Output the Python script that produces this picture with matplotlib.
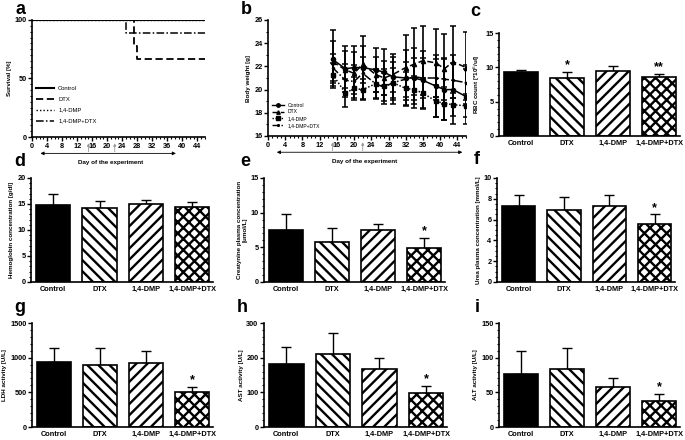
import numpy as np
import matplotlib
matplotlib.use("Agg")
import matplotlib.pyplot as plt
from matplotlib.ticker import MultipleLocator
from matplotlib.lines import Line2D

plt.rcParams['font.family'] = ['Liberation Sans', 'DejaVu Sans']
plt.rcParams['hatch.linewidth'] = 1.7

W, H = 685, 440

groups = ["Control", "DTX", "1,4-DMP", "1,4-DMP+DTX"]

# survival (Kaplan-Meier steps)
surv_control_days = [0, 46]
surv_control = [100, 100]
surv_dtx_days = [0, 27, 28, 46]
surv_dtx = [100, 78, 67, 67]
surv_dmp_days = [0, 46]
surv_dmp = [100, 100]
surv_combo_days = [0, 25, 46]
surv_combo = [100, 89, 89]

# body weight
bw_days = [15, 18, 20, 22, 25, 27, 29, 32, 34, 36, 39, 41, 43, 46]
bw_control = [22.6, 21.8, 21.9, 21.9, 21.7, 21.5, 21.1, 21.0, 21.0, 20.8, 20.3, 20.0, 20.0, 19.4]
bw_control_err = [2.5, 2.0, 1.9, 2.7, 1.9, 2.0, 2.0, 2.4, 2.6, 2.5, 2.7, 2.6, 3.0, 2.4]
bw_dtx = [22.4, 21.7, 21.4, 22.2, 21.3, 21.0, 21.3, 21.9, 22.2, 22.5, 22.3, 21.8, 22.4, 21.9]
bw_dtx_err = [1.8, 1.6, 1.8, 1.6, 1.5, 1.5, 1.5, 2.8, 3.1, 3.0, 2.9, 3.0, 3.1, 3.1]
bw_dmp = [21.3, 19.7, 20.1, 20.0, 20.5, 20.3, 20.6, 20.1, 20.0, 19.7, 19.0, 18.8, 18.7, 18.6]
bw_dmp_err = [1.0, 1.2, 1.0, 0.9, 1.3, 1.5, 1.8, 1.4, 1.2, 1.3, 1.4, 1.4, 1.0, 1.0]
bw_combo = [21.9, 20.8, 20.7, 21.4, 20.5, 20.2, 20.6, 20.9, 21.1, 21.0, 21.0, 20.9, 20.8, 20.6]
bw_combo_err = [1.2, 1.4, 1.4, 1.4, 1.2, 1.2, 1.3, 1.5, 1.6, 1.7, 1.6, 1.8, 1.5, 1.5]

# bar panels
rbc_mean = [9.3, 8.5, 9.4, 8.6]
rbc_err = [0.25, 0.8, 0.75, 0.5]
rbc_sig = ["", "*", "", "**"]
hgb_mean = [14.8, 14.2, 15.0, 14.5]
hgb_err = [2.1, 1.4, 0.7, 0.9]
crea_mean = [7.5, 5.7, 7.5, 4.95]
crea_err = [2.3, 2.1, 0.9, 1.45]
urea_mean = [7.3, 6.9, 7.3, 5.6]
urea_err = [1.1, 1.3, 1.1, 0.9]
ldh_mean = [940, 895, 930, 505]
ldh_err = [195, 250, 165, 75]
ast_mean = [181, 210, 166, 99]
ast_err = [49, 61, 32, 20]
alt_mean = [76, 83, 58, 37.5]
alt_err = [34, 31, 12, 10]
star_last = ["", "", "", "*"]

fig = plt.figure(figsize=(W / 100, H / 100), dpi=100)


def box(l, r, t, b):
    return fig.add_axes([l / W, 1 - b / H, (r - l) / W, (b - t) / H])


def style(ax):
    for s in ["top", "right"]:
        ax.spines[s].set_visible(False)
    for s in ["left", "bottom"]:
        ax.spines[s].set_linewidth(1.2)
    ax.tick_params(which="major", length=3, width=1, labelsize=5.3, pad=1)
    ax.tick_params(which="minor", length=1.5, width=0.8)
    for t in ax.get_xticklabels() + ax.get_yticklabels():
        t.set_fontweight("bold")


def day_axis(ax):
    ax.set_xlim(0, 46)
    ax.xaxis.set_major_locator(MultipleLocator(4))
    ax.xaxis.set_minor_locator(MultipleLocator(1))
    for d in [15, 22]:
        ax.annotate("", xy=(d, -0.03), xycoords=("data", "axes fraction"),
                    xytext=(d, -0.15), textcoords=("data", "axes fraction"),
                    arrowprops=dict(arrowstyle="-|>", color="#999999", lw=0.6,
                                    mutation_scale=4))


def day_arrow(ax, x0, x1, xt):
    ax.annotate("", xy=(x0, -0.14), xycoords=("data", "axes fraction"),
                xytext=(x1, -0.14), textcoords=("data", "axes fraction"),
                arrowprops=dict(arrowstyle="<|-|>", color="black", lw=0.6,
                                mutation_scale=5), annotation_clip=False)
    ax.text(xt, -0.2, "Day of the experiment", transform=ax.get_xaxis_transform(),
            ha="center", va="top", fontsize=4.5, fontweight="bold")


# ---- a: survival
ax = box(32, 205, 20, 137)
ax.plot(surv_control_days, surv_control, drawstyle="steps-post", color="black", lw=1.5, label="Control")
ax.plot(surv_dtx_days, surv_dtx, drawstyle="steps-post", color="black", lw=1.3, ls=(0, (4, 2)), label="DTX")
ax.plot(surv_dmp_days, surv_dmp, drawstyle="steps-post", color="black", lw=1.0, ls=(0, (1, 1.5)), label="1,4-DMP")
ax.plot(surv_combo_days, surv_combo, drawstyle="steps-post", color="black", lw=1.1, ls=(0, (5, 1.5, 1, 1.5)), label="1,4-DMP+DTX")
ax.set_ylim(0, 100)
ax.set_yticks([0, 50, 100])
ax.yaxis.set_minor_locator(MultipleLocator(5))
day_axis(ax)
ax.set_ylabel("Survival [%]", fontsize=4.5, fontweight="bold", labelpad=2)
ax.legend(loc="lower left", bbox_to_anchor=(0.0, 0.08), frameon=False, fontsize=4.2,
          handlelength=3, labelspacing=1.0, borderaxespad=0.3)
style(ax)
day_arrow(ax, 1.5, 39, 21)

# ---- b: body weight
ax = box(268, 466, 20, 136)
series = [
    (bw_control, bw_control_err, "-", "o", "Control"),
    (bw_dtx, bw_dtx_err, (0, (4, 2)), "^", "DTX"),
    (bw_dmp, bw_dmp_err, (0, (1, 1.2)), "s", "1,4-DMP"),
    (bw_combo, bw_combo_err, (0, (5, 1.5, 1, 1.5)), ".", "1,4-DMP+DTX"),
]
for vals, err, ls, mk, lab in series:
    ax.errorbar(bw_days, vals, yerr=err, color="black", ls=ls, lw=1.1, marker=mk,
                ms=3, capsize=2.3, elinewidth=1.2, capthick=1.1, label=lab)
ax.set_ylim(16, 26)
ax.yaxis.set_major_locator(MultipleLocator(2))
ax.yaxis.set_minor_locator(MultipleLocator(1))
day_axis(ax)
ax.set_ylabel("Body weight [g]", fontsize=4.5, fontweight="bold", labelpad=2)
handles = [Line2D([], [], color="black", ls=ls, marker=mk, ms=2.5, lw=1.0)
           for _, _, ls, mk, _ in series]
ax.legend(handles, [s[4] for s in series], loc="lower left", bbox_to_anchor=(0.0, 0.04),
          frameon=False, fontsize=3.6, handlelength=2.5, labelspacing=0.35, borderaxespad=0.3)
style(ax)
day_arrow(ax, 1.4, 45.8, 22.5)

# ---- bar panels
hatches = [None, "\\\\\\", "///", "xxx"]
colors = ["black", "white", "white", "white"]


def bar_panel(box_px, means, errs, sig, ymax, major, minor, ylabel):
    ax = box(*box_px)
    x = np.arange(len(groups))
    ax.bar(x, means, width=0.74, color=colors, edgecolor="black", linewidth=1.2,
           hatch=hatches, zorder=2)
    ax.errorbar(x, means, yerr=[np.zeros(len(errs)), errs], fmt="none", ecolor="black",
                elinewidth=1.0, capsize=3.5, capthick=1.0, zorder=1)
    for i, s in enumerate(sig):
        if s:
            ax.annotate(s, (x[i], means[i] + errs[i]), xytext=(0, 0.5),
                        textcoords="offset points", ha="center", va="bottom",
                        fontsize=9, fontweight="bold")
    ax.set_xlim(-0.48, 3.45)
    ax.set_ylim(0, ymax)
    ax.set_xticks(x)
    ax.set_xticklabels(groups)
    ax.yaxis.set_major_locator(MultipleLocator(major))
    ax.yaxis.set_minor_locator(MultipleLocator(minor))
    ax.set_ylabel(ylabel, fontsize=4.5, fontweight="bold", labelpad=2)
    style(ax)
    ax.tick_params(axis="x", length=0, pad=3, labelsize=5.3)
    return ax


bar_panel((499, 680, 33, 136), rbc_mean, rbc_err, rbc_sig, 15, 5, 1,
          r"RBC count [*10$^6$/ul]")
bar_panel((31, 213, 178, 282), hgb_mean, hgb_err, ["", "", "", ""], 20, 5, 1,
          "Hemoglobin concentration [g/dl]")
bar_panel((264, 445, 178, 282), crea_mean, crea_err, star_last, 15, 5, 1,
          "Creatynine plasma concentration\n[umol/L]")
bar_panel((497, 675, 178, 282), urea_mean, urea_err, star_last, 10, 2, 0.5,
          "Urea plasma concentration [mmol/L]")
bar_panel((32, 213, 323, 427), ldh_mean, ldh_err, star_last, 1500, 500, 100,
          "LDH activity [U/L]")
bar_panel((264, 447, 323, 427), ast_mean, ast_err, star_last, 300, 100, 20,
          "AST activity [U/L]")
bar_panel((499, 680, 323, 427), alt_mean, alt_err, star_last, 150, 50, 10,
          "ALT activity [U/L]")

# panel letters
letters = [("a", 20, 9), ("b", 246, 9), ("c", 475, 11), ("d", 20, 162), ("e", 245, 162),
           ("f", 477, 160), ("g", 20, 307), ("h", 242, 307), ("i", 477, 307)]
for s, px, py in letters:
    fig.text(px / W, 1 - py / H, s, fontsize=13, fontweight="bold", ha="center", va="center")

fig.savefig("out.png", dpi=100)
